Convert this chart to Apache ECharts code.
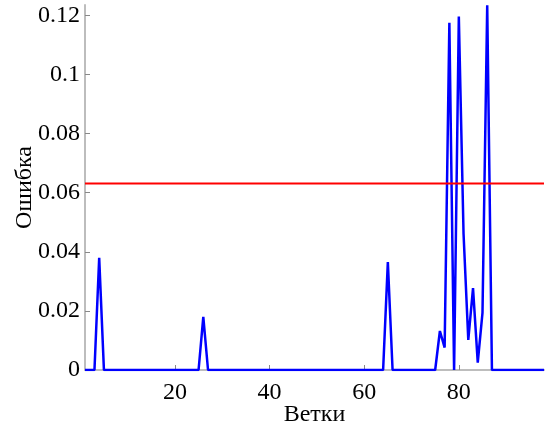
<!DOCTYPE html>
<html>
<head>
<meta charset="utf-8">
<script src="https://cdn.jsdelivr.net/npm/echarts@6/dist/echarts.min.js"></script>
<style>html,body{margin:0;padding:0;background:#fff;}#c{width:546px;height:432px;}</style>
</head>
<body>
<div id="c"></div>
<script>
// Branch numbers 1..98
const branches = [1,2,3,4,5,6,7,8,9,10,11,12,13,14,15,16,17,18,19,20,21,22,23,24,25,26,27,28,29,30,31,32,33,34,35,36,37,38,39,40,41,42,43,44,45,46,47,48,49,50,51,52,53,54,55,56,57,58,59,60,61,62,63,64,65,66,67,68,69,70,71,72,73,74,75,76,77,78,79,80,81,82,83,84,85,86,87,88,89,90,91,92,93,94,95,96,97,98];
// Error per branch
const errors = [
  0,0,0,0.038,0,0,0,0,0,0,
  0,0,0,0,0,0,0,0,0,0,
  0,0,0,0,0,0.018,0,0,0,0,
  0,0,0,0,0,0,0,0,0,0,
  0,0,0,0,0,0,0,0,0,0,
  0,0,0,0,0,0,0,0,0,0,
  0,0,0,0,0.0365,0,0,0,0,0,
  0,0,0,0,0,0.0132,0.0076,0.1175,0,0.1196,
  0.046,0.0102,0.0277,0.0025,0.0193,0.1234,0,0,0,0,
  0,0,0,0,0,0,0,0
];
const threshold = 0.0631;
const xTicks = [20,40,60,80];
const yTicks = [0,0.02,0.04,0.06,0.08,0.1,0.12];

const font = '"Liberation Serif","Times New Roman",serif';
const chart = echarts.init(document.getElementById('c'), null, {renderer:'canvas'});
chart.setOption({
  animation:false,
  backgroundColor:'#ffffff',
  grid:{left:85, top:5, right:2, bottom:62, containLabel:false, outerBoundsMode:'none'},
  xAxis:{
    type:'value', min:1, max:98,
    name:'Ветки', nameLocation:'middle', nameGap:33, nameMoveOverlap:false,
    nameTextStyle:{fontFamily:font, fontSize:24, color:'#000'},
    axisLine:{show:true, onZero:false, lineStyle:{color:'#bdbdbd', width:2}},
    axisTick:{show:true, inside:true, length:5, customValues:xTicks, lineStyle:{color:'#888'}},
    axisLabel:{customValues:xTicks, fontFamily:font, fontSize:24, color:'#000', margin:11},
    splitLine:{show:false}
  },
  yAxis:{
    type:'value', min:0, max:0.1235,
    name:'Ошибка', nameLocation:'middle', nameGap:48, nameRotate:90, nameMoveOverlap:false,
    nameTextStyle:{fontFamily:font, fontSize:24, color:'#000'},
    axisLine:{show:true, lineStyle:{color:'#bdbdbd', width:2}},
    axisTick:{show:true, inside:true, length:5, customValues:yTicks, lineStyle:{color:'#888'}},
    axisLabel:{customValues:yTicks, fontFamily:font, fontSize:24, color:'#000', margin:5,
      formatter:v=>String(+v.toFixed(2))},
    splitLine:{show:false}
  },
  series:[
    {type:'line', data:branches.map((b,i)=>[b,errors[i]]), showSymbol:false, symbol:'none',
     lineStyle:{color:'#0000ff', width:2.5}, clip:true, z:2},
    {type:'line', data:[[1,threshold],[98,threshold]], showSymbol:false, symbol:'none',
     lineStyle:{color:'#ff0000', width:2}, z:3}
  ]
});
</script>
</body>
</html>
